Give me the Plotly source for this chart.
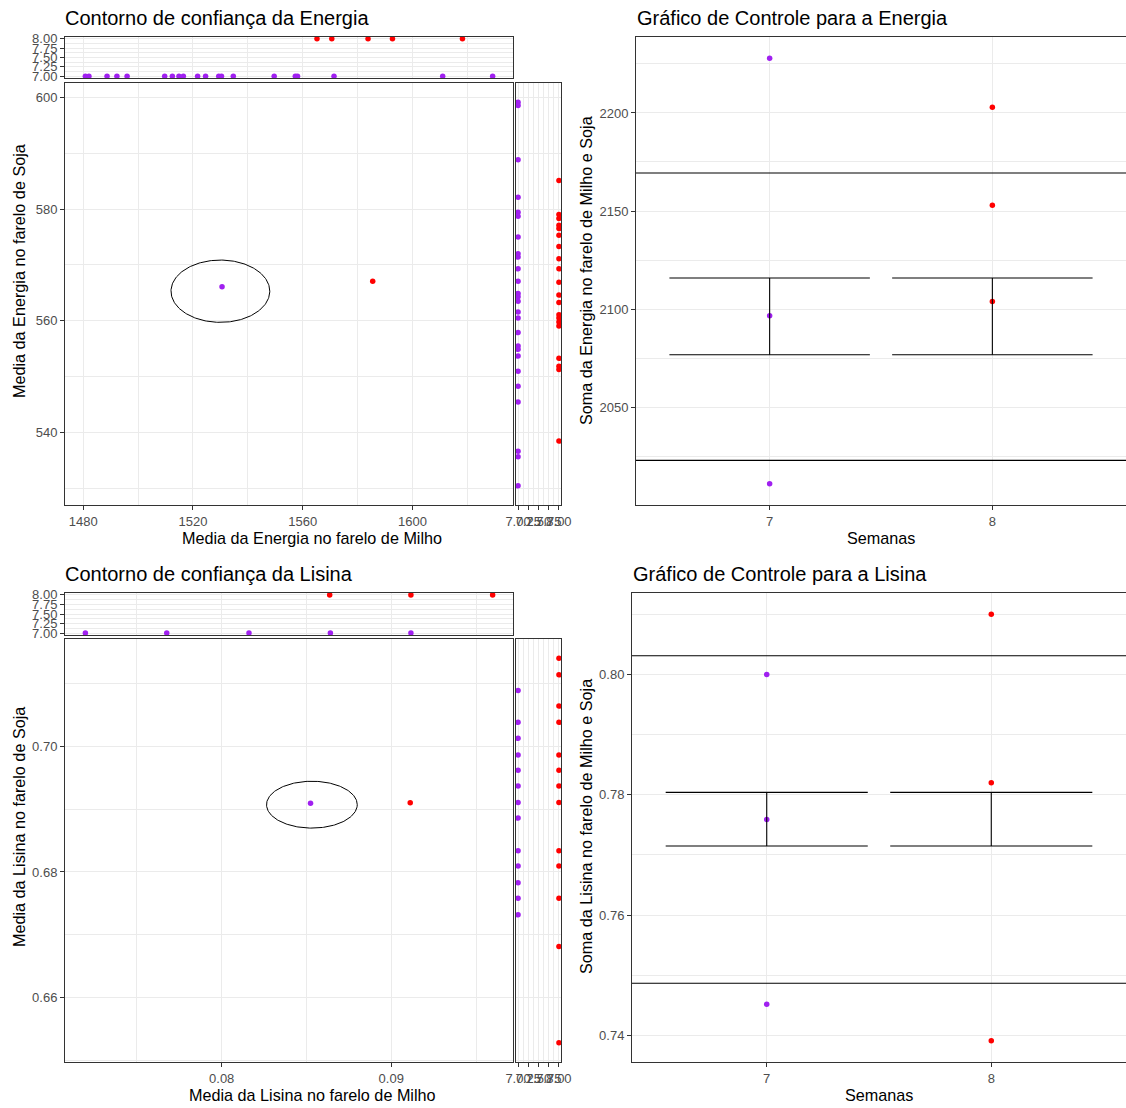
import numpy as np
import plotly.graph_objects as go

W, H = 1126, 1108
FONT = "Liberation Sans, Arial, sans-serif"
ROXO = "#A020F0"
VERMELHO = "#FF0000"
CINZA_TICK = "#4D4D4D"
BORDA = "#333333"
GRADE = "#EBEBEB"
TAM_TICK = 13
TAM_EIXO = 16.2
TAM_TITULO = 20

semanas = [7, 8]
semanas_txt = ["7", "8"]

# ---------------- Energia ----------------
energia_milho_s7 = [1480.8, 1482.1, 1488.7, 1492.3, 1496.0, 1509.7, 1512.5, 1514.9,
                    1516.5, 1521.7, 1524.6, 1529.4, 1530.4, 1534.7, 1549.6, 1557.3,
                    1558.1, 1571.4, 1611.0, 1629.2]
energia_milho_s8 = [1565.2, 1570.6, 1583.8, 1592.7, 1618.2]
energia_soja_s7 = [599.1, 598.5, 588.8, 582.1, 579.4, 578.7, 575.0, 572.0, 571.4,
                   569.3, 567.1, 564.9, 564.3, 563.5, 561.6, 560.5, 557.9, 555.5,
                   554.9, 553.7, 551.0, 548.3, 545.5, 536.7, 535.7, 530.5]
energia_soja_s8 = [585.1, 579.0, 578.3, 577.1, 576.5, 575.3, 573.3, 571.1, 569.3,
                   566.9, 564.6, 563.3, 561.1, 560.5, 559.8, 559.1, 553.3, 551.9,
                   551.3, 538.5]
energia_media_milho = [1530.6, 1585.5]
energia_media_soja = [566.1, 567.1]
energia_elipse_centro = [1530.0, 565.3]
energia_elipse_semieixos = [18.0, 5.57]

energia_soma_s7 = [2227.9, 2096.6, 2010.9]
energia_soma_s8 = [2202.9, 2152.9, 2103.9]
energia_limites = [2022.8, 2169.4]          # LIC, LSC
energia_barra = [2076.7, 2115.8]            # limites da barra por semana

# ---------------- Lisina ----------------
lisina_milho_s7 = [0.07196, 0.07676, 0.08161, 0.08641, 0.09116]
lisina_milho_s8 = [0.08637, 0.09116, 0.09598]
lisina_soja_s7 = [0.70889, 0.70381, 0.70127, 0.69862, 0.69619, 0.69370, 0.69106,
                  0.68857, 0.68338, 0.68095, 0.67830, 0.67583, 0.67317]
lisina_soja_s8 = [0.71402, 0.71138, 0.70640, 0.70381, 0.69862, 0.69619, 0.69370,
                  0.69106, 0.68338, 0.68095, 0.67583, 0.66814, 0.65281]
lisina_media_milho = [0.08524, 0.09112]
lisina_media_soja = [0.69095, 0.69100]
lisina_elipse_centro = [0.08532, 0.69071]
lisina_elipse_semieixos = [0.002676, 0.00373]

lisina_soma_s7 = [0.8000, 0.7759, 0.74515]
lisina_soma_s8 = [0.8100, 0.78199, 0.7391]
lisina_limites = [0.74864, 0.8031]
lisina_barra = [0.77147, 0.78039]


def expand(vals, f=0.05):
    lo, hi = min(vals), max(vals)
    d = (hi - lo) * f
    return [lo - d, hi + d]


def dom_x(a, b):
    return [a / W, b / W]


def dom_y(top, bottom):
    return [1 - bottom / H, 1 - top / H]


def eixo(domain, rng, anchor, tickvals=None, ticktext=None, minor=None,
         labels=True, grid=True):
    d = dict(domain=domain, range=rng, anchor=anchor,
             showline=True, linecolor=BORDA, linewidth=1, mirror=True,
             zeroline=False, showgrid=grid, gridcolor=GRADE, gridwidth=1.1,
             tickangle=0, automargin=False,
             tickfont=dict(family=FONT, size=TAM_TICK, color=CINZA_TICK))
    if tickvals is not None:
        d["tickmode"] = "array"
        d["tickvals"] = tickvals
        if ticktext is not None:
            d["ticktext"] = ticktext
    if labels:
        d.update(ticks="outside", ticklen=4, tickcolor=BORDA, tickwidth=1,
                 showticklabels=True)
    else:
        d.update(ticks="", showticklabels=False)
    if minor is not None:
        d["minor"] = dict(tickmode="array", tickvals=minor, showgrid=True,
                          gridcolor=GRADE, gridwidth=0.55, ticks="")
    return d


sem_ticks = [7.0, 7.25, 7.5, 7.75, 8.0]
sem_txt = ["7.00", "7.25", "7.50", "7.75", "8.00"]
sem_minor = [7.125, 7.375, 7.625, 7.875]
sem_range = expand(semanas)

fig = go.Figure()


def pontos(x, y, cor, xa, ya, size=5.5):
    fig.add_trace(go.Scatter(x=x, y=y, mode="markers", xaxis=xa, yaxis=ya,
                             marker=dict(color=cor, size=size, line=dict(width=0)),
                             hoverinfo="x+y"))


def elipse(centro, semi, xa, ya):
    t = np.linspace(0, 2 * np.pi, 241)
    fig.add_trace(go.Scatter(x=centro[0] + semi[0] * np.cos(t),
                             y=centro[1] + semi[1] * np.sin(t),
                             mode="lines", xaxis=xa, yaxis=ya,
                             line=dict(color="black", width=1), hoverinfo="skip"))


def barras(lim, xa, ya, largura=0.9):
    xs, ys = [], []
    for i in range(len(semanas)):
        c = i + 1
        xs += [c - largura / 2, c + largura / 2, None,
               c - largura / 2, c + largura / 2, None, c, c, None]
        ys += [lim[0], lim[0], None, lim[1], lim[1], None, lim[0], lim[1], None]
    fig.add_trace(go.Scatter(x=xs, y=ys, mode="lines", xaxis=xa, yaxis=ya,
                             line=dict(color="black", width=1.1), hoverinfo="skip"))


def bloco(milho_s7, milho_s8, soja_s7, soja_s8, media_x, media_y, el_c, el_s,
          soma_s7, soma_s8, n):
    # n: índice do primeiro eixo do bloco
    a = [("x" if k == 1 else f"x{k}", "y" if k == 1 else f"y{k}") for k in range(n, n + 4)]
    # dispersão principal das médias + elipse
    pontos([media_x[0]], [media_y[0]], ROXO, *a[0])
    pontos([media_x[1]], [media_y[1]], VERMELHO, *a[0])
    elipse(el_c, el_s, *a[0])
    # margem superior (milho por semana)
    pontos(milho_s7, [semanas[0]] * len(milho_s7), ROXO, *a[1])
    pontos(milho_s8, [semanas[1]] * len(milho_s8), VERMELHO, *a[1])
    # margem direita (soja por semana)
    pontos([semanas[0]] * len(soja_s7), soja_s7, ROXO, *a[2])
    pontos([semanas[1]] * len(soja_s8), soja_s8, VERMELHO, *a[2])
    # gráfico de controle
    pontos([1] * len(soma_s7), soma_s7, ROXO, *a[3], size=5.5)
    pontos([2] * len(soma_s8), soma_s8, VERMELHO, *a[3], size=5.5)


bloco(energia_milho_s7, energia_milho_s8, energia_soja_s7, energia_soja_s8,
      energia_media_milho, energia_media_soja, energia_elipse_centro,
      energia_elipse_semieixos, energia_soma_s7, energia_soma_s8, 1)
barras(energia_barra, "x4", "y4")
bloco(lisina_milho_s7, lisina_milho_s8, lisina_soja_s7, lisina_soja_s8,
      lisina_media_milho, lisina_media_soja, lisina_elipse_centro,
      lisina_elipse_semieixos, lisina_soma_s7, lisina_soma_s8, 5)
barras(lisina_barra, "x8", "y8")

# faixas de eixo
e_x = expand(energia_milho_s7 + energia_milho_s8)
e_y = expand(energia_soja_s7 + energia_soja_s8)
e_c = expand(energia_soma_s7 + energia_soma_s8 + energia_limites)
l_x = expand(lisina_milho_s7 + lisina_milho_s8)
l_y = expand(lisina_soja_s7 + lisina_soja_s8)
l_c = expand(lisina_soma_s7 + lisina_soma_s8 + lisina_limites)
cat_range = [0.4, 2.6]

e_xt, e_xm = [1480, 1520, 1560, 1600], [1500, 1540, 1580, 1620]
e_yt, e_ym = [540, 560, 580, 600], [530, 550, 570, 590]
e_ct, e_cm = [2050, 2100, 2150, 2200], [2025, 2075, 2125, 2175, 2225]
l_xt, l_xm = [0.08, 0.09], [0.075, 0.085, 0.095]
l_yt, l_ym = [0.66, 0.68, 0.70], [0.65, 0.67, 0.69, 0.71]
l_ct, l_cm = [0.74, 0.76, 0.78, 0.80], [0.75, 0.77, 0.79, 0.81]

layout = dict(
    width=W, height=H, margin=dict(l=0, r=0, t=0, b=0),
    paper_bgcolor="white", plot_bgcolor="white", showlegend=False,
    font=dict(family=FONT),
    # Energia
    xaxis=eixo(dom_x(65, 513), e_x, "y", e_xt, [str(v) for v in e_xt], e_xm),
    yaxis=eixo(dom_y(83, 505), e_y, "x", e_yt, [str(v) for v in e_yt], e_ym),
    xaxis2=eixo(dom_x(65, 513), e_x, "y2", e_xt, None, e_xm, labels=False),
    yaxis2=eixo(dom_y(37, 78), sem_range, "x2", sem_ticks, sem_txt, sem_minor),
    xaxis3=eixo(dom_x(516, 561), sem_range, "y3", sem_ticks, sem_txt, sem_minor),
    yaxis3=eixo(dom_y(83, 505), e_y, "x3", e_yt, None, e_ym, labels=False),
    xaxis4=eixo(dom_x(636, 1126), cat_range, "y4", [1, 2], semanas_txt),
    yaxis4=eixo(dom_y(37, 505), e_c, "x4", e_ct, [str(v) for v in e_ct], e_cm),
    # Lisina
    xaxis5=eixo(dom_x(65, 513), l_x, "y5", l_xt, ["0.08", "0.09"], l_xm),
    yaxis5=eixo(dom_y(639, 1062), l_y, "x5", l_yt, ["0.66", "0.68", "0.70"], l_ym),
    xaxis6=eixo(dom_x(65, 513), l_x, "y6", l_xt, None, l_xm, labels=False),
    yaxis6=eixo(dom_y(593, 635), sem_range, "x6", sem_ticks, sem_txt, sem_minor),
    xaxis7=eixo(dom_x(516, 561), sem_range, "y7", sem_ticks, sem_txt, sem_minor),
    yaxis7=eixo(dom_y(639, 1062), l_y, "x7", l_yt, None, l_ym, labels=False),
    xaxis8=eixo(dom_x(632, 1126), cat_range, "y8", [1, 2], semanas_txt),
    yaxis8=eixo(dom_y(593, 1062), l_c, "x8", l_ct, ["0.74", "0.76", "0.78", "0.80"], l_cm),
)
fig.update_layout(**layout)

# limites de controle (linhas horizontais)
for lim, xa, ya in [(energia_limites, "x4", "y4"), (lisina_limites, "x8", "y8")]:
    for v in lim:
        fig.add_shape(type="line", xref=f"{xa} domain", yref=ya, x0=0, x1=1,
                      y0=v, y1=v, line=dict(color="black", width=1.1))

# títulos e rótulos
def texto(s, x, y, size, angle=0, xanchor="center"):
    fig.add_annotation(text=s, xref="paper", yref="paper", x=x / W, y=1 - y / H,
                       xanchor=xanchor, yanchor="middle", showarrow=False,
                       textangle=angle, font=dict(family=FONT, size=size, color="black"))

texto("Contorno de confiança da Energia", 63, 18, TAM_TITULO, xanchor="left")
texto("Gráfico de Controle para a Energia", 635, 18, TAM_TITULO, xanchor="left")
texto("Contorno de confiança da Lisina", 63, 574, TAM_TITULO, xanchor="left")
texto("Gráfico de Controle para a Lisina", 631, 574, TAM_TITULO, xanchor="left")

texto("Media da Energia no farelo de Milho", 312, 538, TAM_EIXO)
texto("Media da Energia no farelo de Soja", 19, 271, TAM_EIXO, angle=-90)
texto("Semanas", 881, 538, TAM_EIXO)
texto("Soma da Energia no farelo de Milho e Soja", 586, 271, TAM_EIXO, angle=-90)

texto("Media da Lisina no farelo de Milho", 312, 1095, TAM_EIXO)
texto("Media da Lisina no farelo de Soja", 19, 827, TAM_EIXO, angle=-90)
texto("Semanas", 879, 1095, TAM_EIXO)
texto("Soma da Lisina no farelo de Milho e Soja", 586, 827, TAM_EIXO, angle=-90)

fig.write_html("out.html")
